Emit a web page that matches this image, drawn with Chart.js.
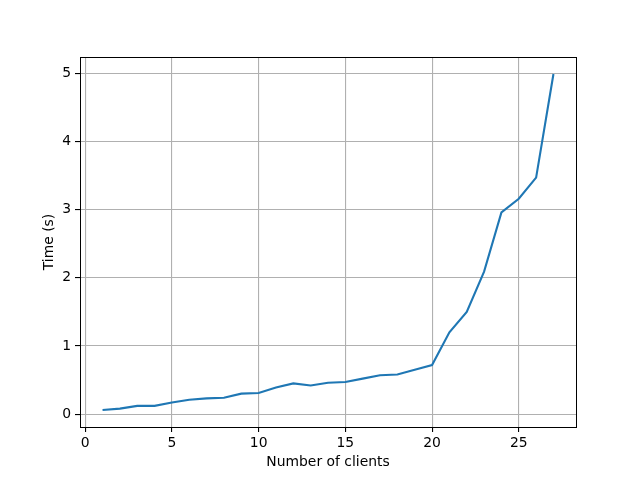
<!DOCTYPE html>
<html>
<head>
<meta charset="utf-8">
<script src="https://cdn.jsdelivr.net/npm/chart.js@4/dist/chart.umd.min.js"></script>
<style>
  html, body { margin: 0; padding: 0; background: #fff; }
  canvas { display: block; }
</style>
</head>
<body>
<canvas id="chart" width="640" height="480"></canvas>
<script>
// datos
const clients = [1, 2, 3, 4, 5, 6, 7, 8, 9, 10, 11, 12, 13, 14, 15, 16, 17, 18, 19, 20, 21, 22, 23, 24, 25, 26, 27];
const times = [0.06, 0.08, 0.12, 0.12, 0.17, 0.21, 0.23, 0.24, 0.30, 0.31, 0.39, 0.45, 0.42, 0.46, 0.47,
  0.52, 0.57, 0.58, 0.65, 0.72, 1.20, 1.50, 2.09, 2.96, 3.16, 3.47, 4.99];
const xTicks = [0, 5, 10, 15, 20, 25];
const yTicks = [0, 1, 2, 3, 4, 5];

const FONT = { family: 'DejaVu Sans', size: 13.9 };

// marco completo (bordes arriba y derecha como matplotlib)
const framePlugin = {
  id: 'frame',
  afterDraw(chart) {
    const { ctx, chartArea } = chart;
    ctx.save();
    ctx.strokeStyle = '#000';
    ctx.lineWidth = 1;
    ctx.strokeRect(Math.round(chartArea.left) + 0.5, Math.round(chartArea.top) + 0.5,
      Math.round(chartArea.right - chartArea.left), Math.round(chartArea.bottom - chartArea.top));
    ctx.restore();
  }
};

function renderChart() {
  const ctx = document.getElementById('chart');

  new Chart(ctx, {
    type: 'line',
    data: {
      datasets: [{
        data: clients.map((c, i) => ({ x: c, y: times[i] })),
        borderColor: '#1f77b4',
        borderWidth: 2.1,
        pointRadius: 0,
        tension: 0,
        fill: false
      }]
    },
    options: {
      responsive: false,
      animation: false,
      layout: { padding: { top: 57, right: 64, left: 0, bottom: 0 } },
      plugins: {
        legend: { display: false },
        tooltip: { enabled: false }
      },
      scales: {
        x: {
          type: 'linear',
          min: -0.3,
          max: 28.3,
          afterBuildTicks: scale => { scale.ticks = xTicks.map(v => ({ value: v })); },
          afterFit: scale => { scale.height = 53; },
          grid: { color: '#b0b0b0', lineWidth: 1.1, tickColor: '#000', tickLength: 5 },
          border: { color: '#000', width: 1 },
          ticks: { color: '#000', font: FONT, padding: 3, maxRotation: 0 },
          title: { display: true, text: 'Number of clients', color: '#000', font: FONT, padding: { top: 0, bottom: 9 } }
        },
        y: {
          min: -0.19,
          max: 5.24,
          afterBuildTicks: scale => { scale.ticks = yTicks.map(v => ({ value: v })); },
          afterFit: scale => { scale.width = 80; },
          grid: { color: '#b0b0b0', lineWidth: 1.1, tickColor: '#000', tickLength: 5 },
          border: { color: '#000', width: 1 },
          ticks: { color: '#000', font: FONT, padding: 4 },
          title: { display: true, text: 'Time (s)', color: '#000', font: FONT, padding: { top: 41, bottom: 0 } }
        }
      }
    },
    plugins: [framePlugin]
  });
}

document.addEventListener('DOMContentLoaded', () => {
  renderChart();
});
</script>
</body>
</html>
